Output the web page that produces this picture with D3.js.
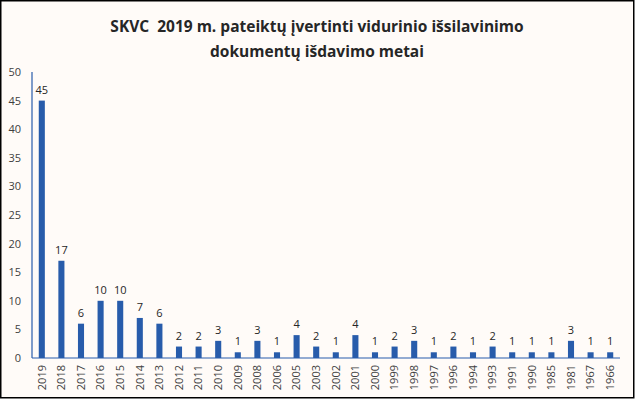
<!DOCTYPE html>
<html>
<head>
<meta charset="utf-8">
<script src="https://cdn.jsdelivr.net/npm/d3@7"></script>
<style>
  body { margin: 0; background: #fff; }
  svg { display: block; }
</style>
</head>
<body>
<svg id="chart" width="635" height="399"></svg>
<script>
var years = ["2019","2018","2017","2016","2015","2014","2013","2012","2011","2010",
             "2009","2008","2006","2005","2003","2002","2001","2000","1999","1998",
             "1997","1996","1994","1993","1991","1990","1985","1981","1967","1966"];
var counts = [45,17,6,10,10,7,6,2,2,3,1,3,1,4,2,1,4,1,2,3,1,2,1,2,1,1,1,3,1,1];
var yTicks = [0,5,10,15,20,25,30,35,40,45,50];
var titleLines = ["SKVC  2019 m. pateiktų įvertinti vidurinio išsilavinimo",
                  "dokumentų išdavimo metai"];

var data = years.map(function(y, i) { return {year: y, value: counts[i]}; });

var svg = d3.select("#chart");
var W = 635, H = 399;
var plotLeft = 32, plotRight = 620, plotTop = 72, plotBottom = 358;
var barColor = "#285cab";
var textColor = "#404040";
var font = "'Open Sans', 'DejaVu Sans', sans-serif";

// background + frame
svg.append("rect")
    .attr("x", 0.75).attr("y", 0.75)
    .attr("width", W - 2).attr("height", H - 2)
    .style("fill", "#fffbf8")
    .style("stroke", "#000")
    .style("stroke-width", 1.5);

// title
svg.append("g").selectAll("text")
    .data(titleLines)
    .enter()
    .append("text")
    .attr("x", 317)
    .attr("y", function(d, i) { return 32 + i * 25; })
    .attr("text-anchor", "middle")
    .style("white-space", "pre")
    .style("font-family", font)
    .style("font-weight", "bold")
    .style("font-size", "15.5px")
    .style("fill", "#262626")
    .text(function(d) { return d; });

var x = d3.scaleBand()
    .domain(years)
    .range([plotLeft, plotRight])
    .paddingInner(0.69)
    .paddingOuter(0.345);

var y = d3.scaleLinear()
    .domain([0, 50])
    .range([plotBottom, plotTop]);

// y axis labels
var yAxis = svg.append("g")
    .attr("transform", "translate(" + plotLeft + ",0)")
    .call(d3.axisLeft(y).tickValues(yTicks).tickSize(0).tickPadding(11));
yAxis.select(".domain").remove();
yAxis.selectAll("text")
    .style("font-family", font)
    .style("font-size", "11px")
    .style("fill", textColor);

// bars
svg.append("g").selectAll("rect")
    .data(data)
    .enter()
    .append("rect")
    .attr("x", function(d) { return x(d.year); })
    .attr("y", function(d) { return y(d.value); })
    .attr("width", x.bandwidth())
    .attr("height", function(d) { return y(0) - y(d.value); })
    .style("fill", barColor);

// axis lines
svg.append("line")
    .attr("x1", plotLeft).attr("x2", plotLeft)
    .attr("y1", y(50)).attr("y2", y(0))
    .style("stroke", barColor).style("stroke-width", 1.2);
svg.append("line")
    .attr("x1", plotLeft).attr("x2", plotRight)
    .attr("y1", y(0)).attr("y2", y(0))
    .style("stroke", barColor).style("stroke-width", 1.2);

// value labels
svg.append("g").selectAll("text")
    .data(data)
    .enter()
    .append("text")
    .attr("x", function(d) { return x(d.year) + x.bandwidth() / 2; })
    .attr("y", function(d) { return y(d.value) - 7; })
    .attr("text-anchor", "middle")
    .style("font-family", font)
    .style("font-size", "11px")
    .style("fill", "#262626")
    .text(function(d) { return d.value; });

// x labels, rotated
var xAxis = svg.append("g")
    .attr("transform", "translate(0," + plotBottom + ")")
    .call(d3.axisBottom(x).tickSize(0).tickPadding(0));
xAxis.select(".domain").remove();
xAxis.selectAll("text")
    .attr("transform", "rotate(-90)")
    .attr("x", -7)
    .attr("y", 0)
    .attr("dy", "0.35em")
    .style("text-anchor", "end")
    .style("font-family", font)
    .style("font-size", "11px")
    .style("fill", textColor);
</script>
</body>
</html>
